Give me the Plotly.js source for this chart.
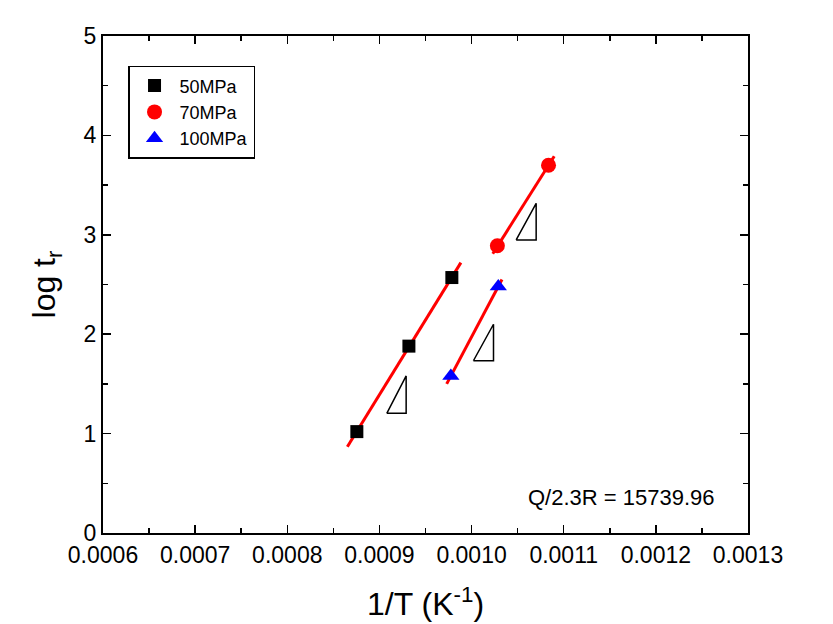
<!DOCTYPE html>
<html>
<head>
<meta charset="utf-8">
<script src="https://cdn.plot.ly/plotly-3.0.1.min.js"></script>
<style>html,body{margin:0;padding:0;background:#fff;}#chart{width:833px;height:624px;}</style>
</head>
<body>
<div id="chart"></div>
<script>
// Data series
var x50 = [0.0008755, 0.000932, 0.0009786];
var y50 = [1.02, 1.88, 2.57];
var x70 = [0.001028, 0.0010835];
var y70 = [2.89, 3.70];
var x100 = [0.0009775, 0.001029];
var y100 = [1.58, 2.48];

// Fitted lines (endpoints)
var fit50x = [0.0008652, 0.0009884];
var fit50y = [0.868, 2.72];
var fit70x = [0.001023, 0.0010897];
var fit70y = [2.81, 3.79];
var fit100x = [0.000973, 0.001033];
var fit100y = [1.50, 2.55];

// Slope-indicator triangles
var tri1x = [0.000908, 0.000929, 0.000929, 0.000908];
var tri1y = [1.204, 1.58, 1.204, 1.204];
var tri2x = [0.001002, 0.0010238, 0.0010238, 0.001002];
var tri2y = [1.733, 2.10, 1.733, 1.733];
var tri3x = [0.0010484, 0.0010701, 0.0010701, 0.0010484];
var tri3y = [2.948, 3.317, 2.948, 2.948];

var seriesNames = ['50MPa', '70MPa', '100MPa'];
var annotationText = 'Q/2.3R = 15739.96';

var font = 'Arial, "Liberation Sans", sans-serif';

function fitTrace(x, y) {
  return {x: x, y: y, mode: 'lines', line: {color: '#ff0000', width: 3}, showlegend: false, hoverinfo: 'skip'};
}
function triTrace(x, y) {
  return {x: x, y: y, mode: 'lines', line: {color: '#000', width: 1.5}, showlegend: false, hoverinfo: 'skip'};
}

var traces = [
  fitTrace(fit50x, fit50y),
  fitTrace(fit70x, fit70y),
  fitTrace(fit100x, fit100y),
  triTrace(tri1x, tri1y),
  triTrace(tri2x, tri2y),
  triTrace(tri3x, tri3y),
  {x: x50, y: y50, name: seriesNames[0], mode: 'markers', marker: {symbol: 'square', size: 13, color: '#000'}},
  {x: x70, y: y70, name: seriesNames[1], mode: 'markers', marker: {symbol: 'circle', size: 15, color: '#ff0000'}},
  {x: x100, y: y100, name: seriesNames[2], mode: 'markers', marker: {symbol: 'triangle-up', size: 15, color: '#0000ff'}}
];

var layout = {
  width: 833, height: 624,
  margin: {l: 103, r: 85, t: 36, b: 91},
  paper_bgcolor: '#fff', plot_bgcolor: '#fff',
  font: {family: font, color: '#000', size: 23},
  showlegend: true,
  legend: {
    x: 0.0388, y: 0.94, xanchor: 'left', yanchor: 'top',
    bordercolor: '#000', borderwidth: 1.5, bgcolor: '#fff',
    font: {family: font, size: 18, color: '#000'},
    itemwidth: 40, tracegroupgap: 0
  },
  xaxis: {
    range: [0.0006, 0.0013], tick0: 0.0006, dtick: 0.0001, tickformat: '.4f',
    showline: true, linecolor: '#000', linewidth: 2, mirror: 'ticks',
    ticks: 'inside', ticklen: 8, tickwidth: 1.5, tickcolor: '#000',
    minor: {dtick: 0.00005, ticks: 'inside', ticklen: 5, tickwidth: 1.5, tickcolor: '#000'},
    showgrid: false, zeroline: false,
    tickfont: {family: font, size: 23},
    title: {text: '1/T (K<sup>-1</sup>)', font: {family: font, size: 32}, standoff: 26}
  },
  yaxis: {
    range: [0, 5], tick0: 0, dtick: 1,
    showline: true, linecolor: '#000', linewidth: 2, mirror: 'ticks',
    ticks: 'inside', ticklen: 8, tickwidth: 1.5, tickcolor: '#000',
    minor: {dtick: 0.5, ticks: 'inside', ticklen: 5, tickwidth: 1.5, tickcolor: '#000'},
    showgrid: false, zeroline: false,
    tickfont: {family: font, size: 23},
    title: {text: 'log t<sub>r</sub>', font: {family: font, size: 32}, standoff: 18}
  },
  annotations: [{
    xref: 'paper', yref: 'paper', x: 0.952, y: 0.072, xanchor: 'right', yanchor: 'middle',
    text: annotationText, showarrow: false, font: {family: font, size: 22, color: '#000'}
  }]
};

Plotly.newPlot('chart', traces, layout, {displayModeBar: false, staticPlot: true});
</script>
</body>
</html>
